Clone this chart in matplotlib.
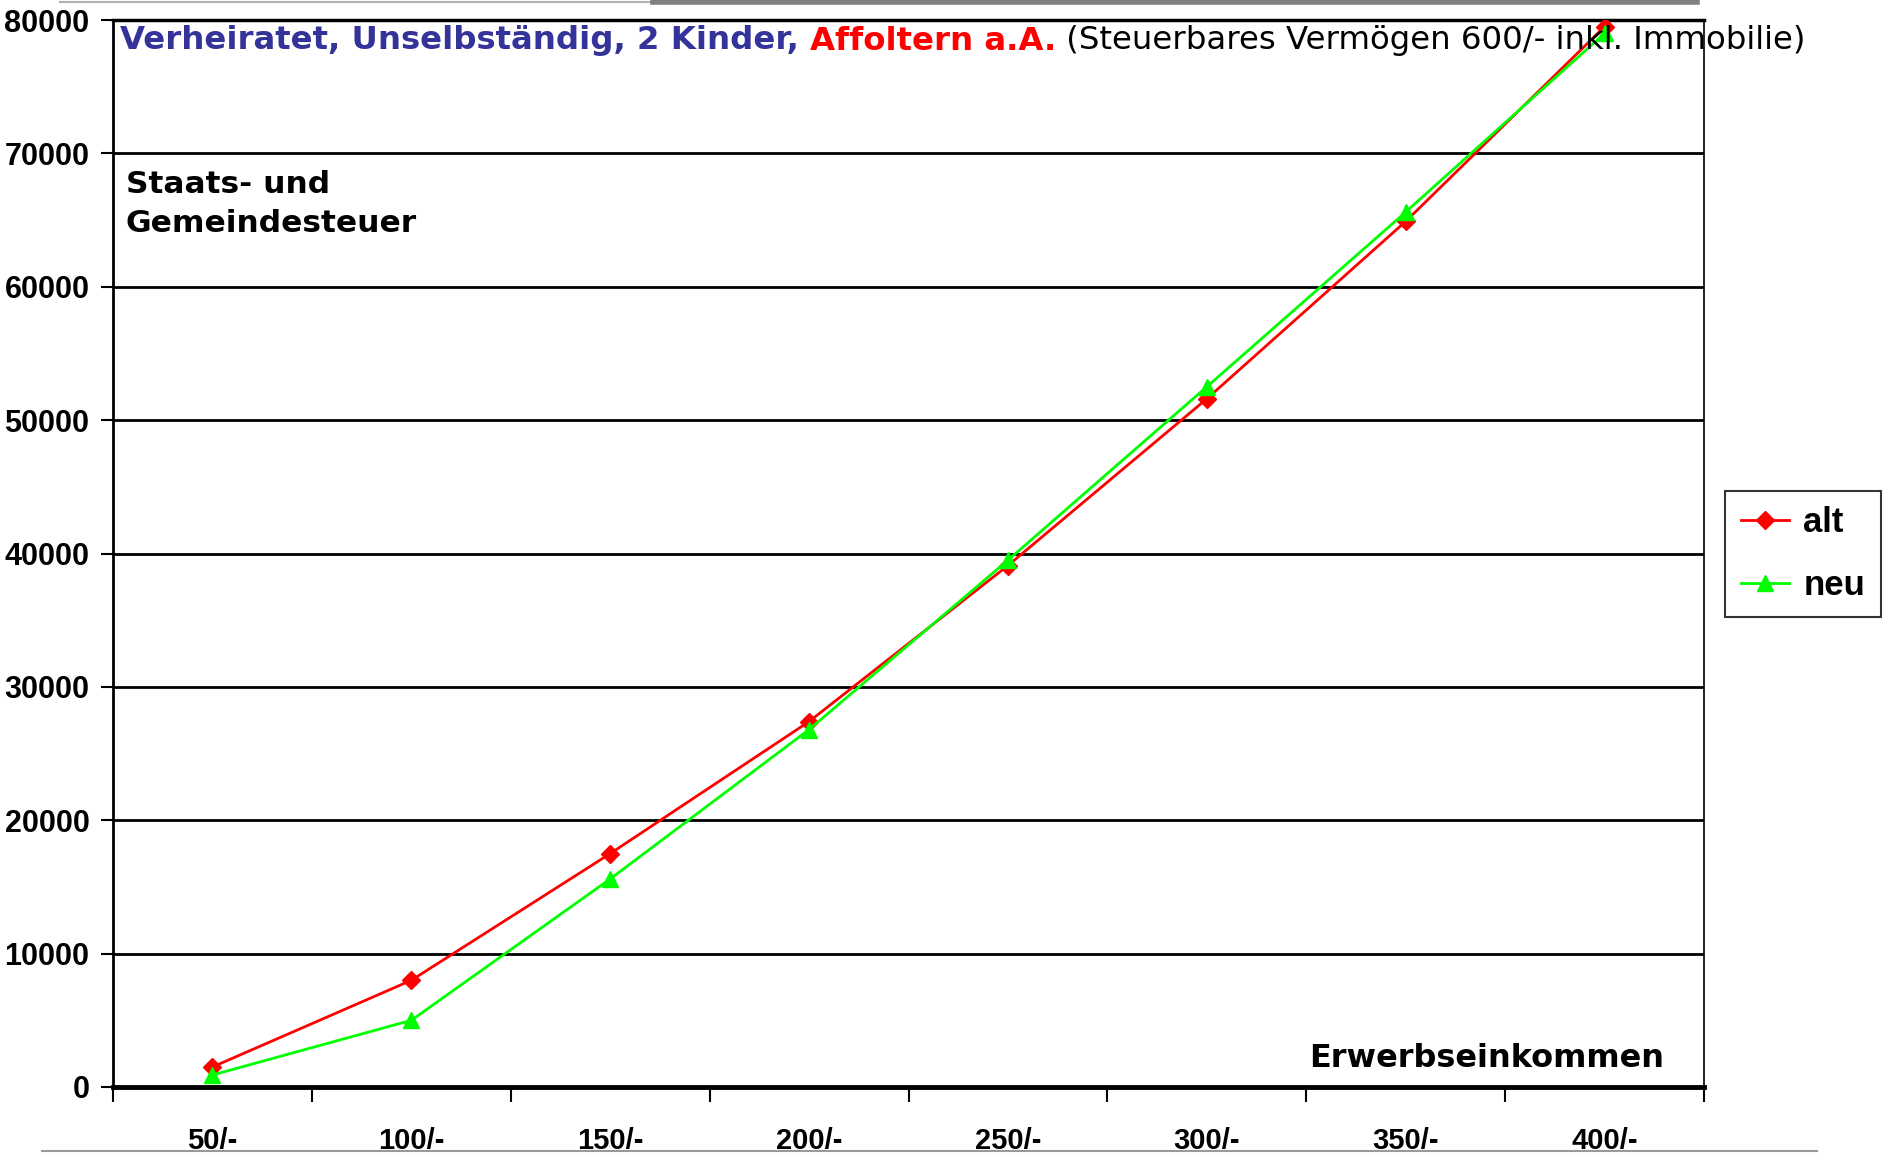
import matplotlib
matplotlib.use('Agg')
import matplotlib.pyplot as plt
from matplotlib.lines import Line2D
import numpy as np

W, H = 1887, 1157

# ----- Data -----
categories = ['50/-', '100/-', '150/-', '200/-', '250/-', '300/-', '350/-', '400/-']
alt = [1500, 8000, 17500, 27400, 39100, 51600, 64900, 79500]
neu = [900, 5000, 15600, 26800, 39500, 52500, 65600, 79000]
y_ticks = [0, 10000, 20000, 30000, 40000, 50000, 60000, 70000, 80000]

title_parts = [
    ('Verheiratet, Unselbständig, 2 Kinder, ', '#333399', 'bold'),
    ('Affoltern a.A.', '#ff0000', 'bold'),
    (' (Steuerbares Vermögen 600/- inkl. Immobilie)', 'black', 'normal'),
]


def fx(px):
    return px / W


def fy(py):
    return 1 - py / H


fig = plt.figure(figsize=(W / 100, H / 100), dpi=100)
ax = fig.add_axes([fx(113), fy(1087), fx(1704) - fx(113), fy(20) - fy(1087)])

x = np.arange(len(categories))
ax.plot(x, alt, color='#ff0000', lw=2, marker='D', ms=9, label='alt', zorder=3)
ax.plot(x, neu, color='#00ff00', lw=2, marker='^', ms=11, label='neu', zorder=3)

ax.set_xlim(-0.5, len(categories) - 0.5)
ax.set_ylim(0, 80000)

# ticks between categories, labels centred
ax.set_xticks(np.arange(len(categories) + 1) - 0.5)
ax.set_xticklabels([])
ax.set_xticks(x, minor=True)
ax.set_xticklabels(categories, minor=True, fontsize=21, fontweight='bold',
                   family='Liberation Sans')
ax.tick_params(axis='x', which='major', direction='out', length=11, width=1.5)
ax.tick_params(axis='x', which='minor', length=0, pad=29)

ax.set_yticks(y_ticks)
ax.set_yticklabels([str(v) for v in y_ticks], fontsize=22, fontweight='bold',
                   family='Liberation Sans')
ax.tick_params(axis='y', direction='out', length=9, width=1.5, pad=8)

ax.yaxis.grid(True, color='black', lw=2)
ax.set_axisbelow(True)

ax.spines['left'].set_linewidth(2)
ax.spines['bottom'].set_linewidth(3.5)
ax.spines['top'].set_linewidth(2.5)
ax.spines['right'].set_linewidth(1.2)

# texts inside the plot
ax.text(0.008, 0.859, 'Staats- und\nGemeindesteuer', transform=ax.transAxes,
        fontsize=22.5, fontweight='bold', va='top', ha='left', linespacing=1.4)
ax.text(0.975, 0.012, 'Erwerbseinkommen', transform=ax.transAxes,
        fontsize=23, fontweight='bold', va='bottom', ha='right')

# legend
leg = fig.legend(loc='center', bbox_to_anchor=(fx(1803), fy(554)),
                 prop={'weight': 'bold', 'size': 25, 'family': 'Liberation Sans'},
                 frameon=True, fancybox=False, edgecolor='black',
                 handlelength=1.4, labelspacing=0.85, borderpad=0.45,
                 handletextpad=0.4, borderaxespad=0)
leg.get_frame().set_linewidth(1.5)

# multi-coloured title
renderer = fig.canvas.get_renderer()
xpos = 120
for text, color, weight in title_parts:
    t = fig.text(fx(xpos), fy(41), text, color=color, fontweight=weight,
                 fontsize=23.3, va='center', ha='left')
    bb = t.get_window_extent(renderer=renderer)
    xpos += bb.width

# slide decorations
fig.add_artist(Line2D([fx(60), fx(1697)], [fy(2), fy(2)], color='#b0b0b0', lw=1.5))
fig.add_artist(Line2D([fx(653), fx(1697)], [fy(2), fy(2)], color='#808080', lw=4))
fig.add_artist(Line2D([fx(42), fx(1817)], [fy(1151), fy(1151)], color='#999999', lw=1.5))

fig.savefig('out.png', dpi=100)
